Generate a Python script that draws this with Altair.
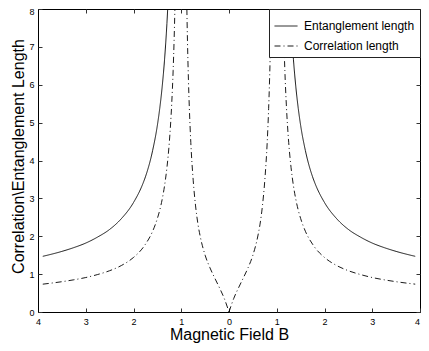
import altair as alt
import pandas as pd

# ---- data (right half; the picture is mirror-symmetric in B) ----
ent_B = [1.284, 1.3, 1.35, 1.4, 1.45, 1.5, 1.6, 1.75, 1.8, 2.0, 2.25, 2.5, 2.75, 3.0, 3.25, 3.5, 3.9]
ent_L = [8.0, 7.62, 6.66, 5.94, 5.38, 4.93, 4.26, 3.57, 3.40, 2.89, 2.47, 2.18, 1.98, 1.82, 1.70, 1.60, 1.47]

corr_out_B = [1.133, 1.15, 1.17, 1.2, 1.25, 1.3, 1.35, 1.4, 1.45, 1.5, 1.6, 1.75, 1.8, 2.0, 2.25,
              2.5, 2.75, 3.0, 3.25, 3.5, 3.9]
corr_out_L = [8.0, 7.16, 6.37, 5.49, 4.48, 3.81, 3.33, 2.97, 2.69, 2.47, 2.13, 1.79, 1.70, 1.44, 1.23,
              1.09, 0.99, 0.91, 0.85, 0.80, 0.735]

corr_in_B = [0.0, 0.1, 0.2, 0.3, 0.4, 0.5, 0.6, 0.65, 0.7, 0.75, 0.8, 0.83, 0.85, 0.87, 0.8825]
corr_in_L = [0.0, 0.36, 0.64, 0.90, 1.17, 1.50, 1.98, 2.32, 2.80, 3.48, 4.48, 5.37, 6.15, 7.18, 8.0]

series_names = ["Entanglement length", "Correlation length"]
x_ticks = [-4, -3, -2, -1, 0, 1, 2, 3, 4]
y_ticks = [0, 1, 2, 3, 4, 5, 6, 7, 8]

rows = []
def add(series, seg, Bs, Ls, sign):
    for b, l in zip(Bs, Ls):
        rows.append({"B": sign * b, "L": l, "series": series, "seg": seg})

add(series_names[0], "e_left", ent_B, ent_L, -1)
add(series_names[0], "e_right", ent_B, ent_L, 1)
add(series_names[1], "c_left", corr_out_B, corr_out_L, -1)
add(series_names[1], "c_right", corr_out_B, corr_out_L, 1)
add(series_names[1], "c_mid_l", corr_in_B, corr_in_L, -1)
add(series_names[1], "c_mid_r", corr_in_B, corr_in_L, 1)
df = pd.DataFrame(rows)

x_scale = alt.Scale(domain=[-4, 4], nice=False, zero=False)
y_scale = alt.Scale(domain=[0, 8], nice=False, zero=False)

lines = alt.Chart(df).mark_line(
    color="black", strokeWidth=0.9, clip=True, interpolate="monotone"
).encode(
    x=alt.X("B:Q", scale=x_scale, axis=alt.Axis(
        orient="bottom", values=x_ticks, labelExpr="abs(datum.value)", ticks=False,
        domain=True, domainColor="black", grid=False, labelFontSize=9, labelPadding=5,
        labelFlush=False,
        labelOffset=alt.condition("datum.value == 4", alt.value(-3), alt.value(0)),
        title="Magnetic Field B", titleFontSize=16, titleFontWeight="normal",
        titleBaseline="alphabetic", titleY=27)),
    y=alt.Y("L:Q", scale=y_scale, axis=alt.Axis(
        orient="left", values=y_ticks, ticks=False, domain=True, domainColor="black",
        grid=False, labelFontSize=9, labelPadding=4, labelFlush=False,
        labelOffset=alt.condition("datum.value == 8", alt.value(2), alt.value(0)),
        title="Correlation\\Entanglement Length", titleFontSize=16, titleFontWeight="normal",
        titleBaseline="alphabetic", titleX=-15, titleY=147)),
    strokeDash=alt.StrokeDash("series:N", scale=alt.Scale(
        domain=series_names, range=[[1, 0], [6, 3, 1, 3]]),
        legend=alt.Legend(title=None, orient="top-right", offset=0)),
    detail="seg:N",
)

def tick_layer(xaxis, yaxis):
    return alt.Chart(df).mark_point(opacity=0, size=0).encode(
        x=alt.X("B:Q", scale=x_scale, axis=xaxis),
        y=alt.Y("L:Q", scale=y_scale, axis=yaxis),
    )

def tick_axis(orient, values):
    return alt.Axis(orient=orient, values=values, offset=-4, tickSize=4, labels=False,
                    domain=False, grid=False, title=None, tickColor="#333")

chart = alt.layer(
    lines,
    tick_layer(tick_axis("bottom", x_ticks), None),
    tick_layer(tick_axis("top", x_ticks), None),
    tick_layer(None, tick_axis("left", y_ticks)),
    tick_layer(None, tick_axis("right", y_ticks)),
).resolve_axis(
    x="independent", y="independent"
).properties(
    width=382, height=303,
    autosize=alt.AutoSizeParams(type="none"),
    padding={"left": 30, "top": 1, "right": 1, "bottom": 31},
).configure(
    font="Liberation Sans",
).configure_view(
    stroke="black", strokeWidth=1,
).configure_axis(
    labelColor="black", titleColor="black", labelFont="Liberation Sans",
    titleFont="Liberation Sans",
).configure_legend(
    labelFont="Liberation Sans", labelFontSize=12, labelColor="black",
    symbolSize=529, symbolStrokeWidth=0.9, symbolType="stroke", symbolStrokeColor="black",
    padding=5, strokeColor="#222", fillColor="white", labelOffset=6, rowPadding=2,
)

chart.save("out.html", embed_options={"renderer": "svg", "actions": False})
